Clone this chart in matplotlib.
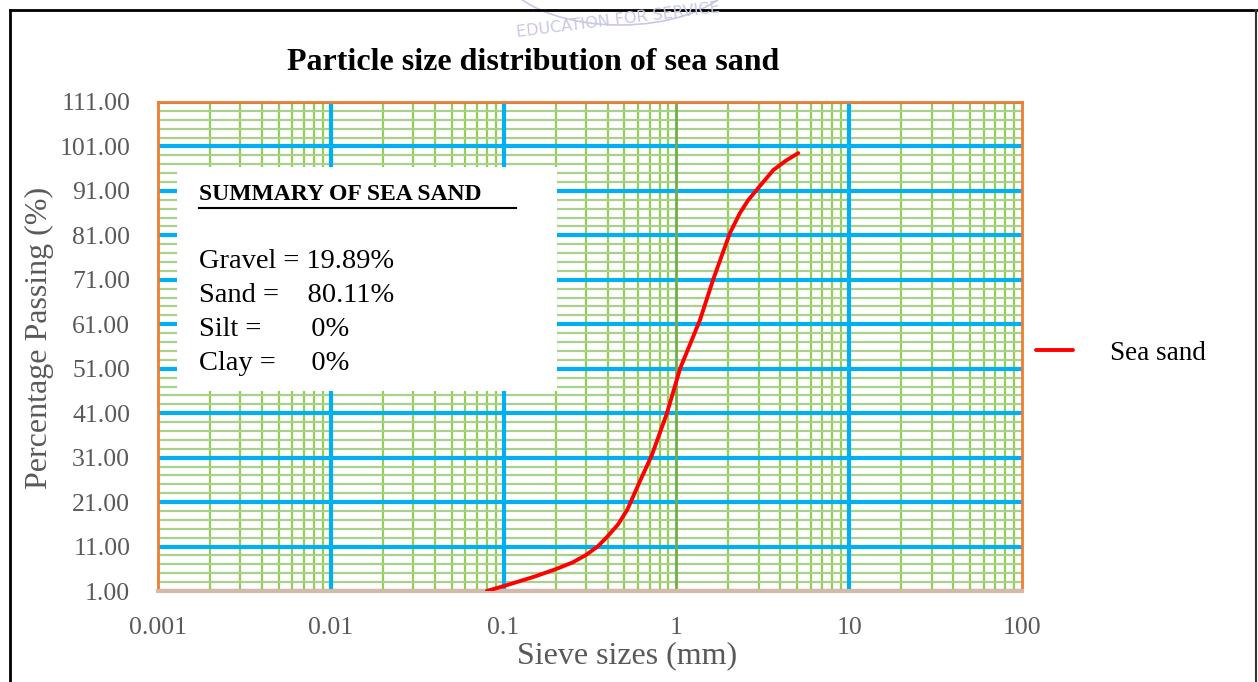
import numpy as np
import matplotlib
matplotlib.use("Agg")
import matplotlib.pyplot as plt
from matplotlib.ticker import FixedLocator, LogLocator, NullFormatter
from matplotlib.patches import Rectangle, Arc
from matplotlib.lines import Line2D

plt.rcParams['font.family'] = ['Liberation Serif', 'DejaVu Serif']

# sieve sizes (mm) and percentage passing
sieve_mm = [0.08, 0.1, 0.15, 0.2, 0.25, 0.3, 0.35, 0.4, 0.46, 0.52, 0.62, 0.72, 0.88,
            1.05, 1.37, 1.63, 2.04, 2.33, 2.6, 2.91, 3.64, 4.3, 5.07]
passing = [1.0, 2.1, 4.2, 5.9, 7.4, 9.1, 11.0, 13.3, 16.0, 19.3, 26.0, 31.5, 40.9,
           51.0, 62.0, 71.0, 81.5, 86.0, 88.9, 91.2, 95.7, 97.8, 99.5]

y_ticks = [1, 11, 21, 31, 41, 51, 61, 71, 81, 91, 101, 111]
x_ticks = [0.001, 0.01, 0.1, 1, 10, 100]
x_labels = ["0.001", "0.01", "0.1", "1", "10", "100"]

summary_title = "SUMMARY OF SEA SAND"
summary_lines = ["Gravel = 19.89%", "Sand =    80.11%", "Silt =       0%", "Clay =     0%"]

W, H = 1258, 682
fig = plt.figure(figsize=(W / 100, H / 100), dpi=100)
ax = fig.add_axes([158 / W, 1 - 591 / H, (1022 - 158) / W, (591 - 102) / H])

blue = '#00B0F0'
green = '#92D050'
grey = '#595959'

ax.set_xscale('log')
ax.set_xlim(0.001, 100)
ax.set_ylim(1, 111)

ax.xaxis.set_major_locator(FixedLocator(x_ticks))
ax.set_xticklabels(x_labels)
ax.xaxis.set_minor_locator(LogLocator(base=10, subs=np.arange(2, 10)))
ax.xaxis.set_minor_formatter(NullFormatter())
ax.yaxis.set_major_locator(FixedLocator(y_ticks))
ax.yaxis.set_minor_locator(FixedLocator(np.arange(1, 112, 2)))
ax.set_yticklabels(["%.2f" % v for v in y_ticks])

ax.tick_params(which='both', length=0, labelsize=18.5, labelcolor=grey)
ax.tick_params(axis='x', pad=19)
ax.tick_params(axis='y', pad=20)

ax.set_axisbelow(True)
ax.grid(which='minor', axis='y', color='#A9D18E', lw=1.6)
ax.grid(which='minor', axis='x', color=green, lw=1.6)
ax.grid(which='major', axis='y', color=blue, lw=3)
for xv in x_ticks[1:-1]:
    if xv == 1:
        ax.axvline(xv, color='#70AD47', lw=2, zorder=0.6)
    else:
        ax.axvline(xv, color=blue, lw=3, zorder=0.6)

for side in ['top', 'left', 'right']:
    ax.spines[side].set_color('#ED7D31')
    ax.spines[side].set_linewidth(2)
ax.spines['bottom'].set_color('#D5B9A8')
ax.spines['bottom'].set_linewidth(3)

line, = ax.plot(sieve_mm, passing, color='#FF0000', lw=2.8, zorder=3,
                solid_capstyle='round', solid_joinstyle='round', label='Sea sand')

# summary box
bx0, by0, bx1, by1 = 177, 167, 557, 391
box = Rectangle((bx0 / W, 1 - by1 / H), (bx1 - bx0) / W, (by1 - by0) / H,
                transform=fig.transFigure, facecolor='white', edgecolor='none', zorder=2)
fig.patches.append(box)
fig.text(199 / W, 1 - 194 / H, summary_title, fontsize=17, fontweight='bold',
         va='center', ha='left', zorder=4)
fig.add_artist(Line2D([199 / W, 516 / W], [1 - 208 / H, 1 - 208 / H],
                      color='black', lw=1.5, zorder=4))
for i, s in enumerate(summary_lines):
    fig.text(199 / W, 1 - (261 + 34 * i) / H, s, fontsize=20.5,
             va='center', ha='left', zorder=4)

ax.set_xlabel("Sieve sizes (mm)", fontsize=23, color=grey, va='center')
ax.xaxis.set_label_coords((627 - 158) / 864, (591 - 656) / 489)
ax.set_ylabel("Percentage Passing (%)", fontsize=23, color=grey, va='center')
ax.yaxis.set_label_coords((39 - 158) / 864, (591 - 338) / 489)

fig.text(533 / W, 1 - 63 / H, "Particle size distribution of sea sand",
         fontsize=23, fontweight='bold', ha='center', va='center')

fig.legend(handles=[line], loc='center left', bbox_to_anchor=(1036 / W, 1 - 353 / H),
           frameon=False, fontsize=19.5, handlelength=1.35, handletextpad=1.4,
           borderpad=0, borderaxespad=0)

# page frame
fig.add_artist(Line2D([10 / W, 10 / W], [0, 1 - 10 / H], color='black', lw=2))
fig.add_artist(Line2D([10 / W, 1257 / W], [1 - 10 / H, 1 - 10 / H], color='black', lw=2))
fig.add_artist(Line2D([1256 / W, 1256 / W], [0, 1 - 10 / H], color='#333333', lw=1.5))

# faint watermark
fig.patches.append(Arc((620 / W, 1 - (-35) / H), 240 / W, 120 / H, theta1=200, theta2=340,
                       transform=fig.transFigure, color='#C8C8E6', lw=1.2))
fig.text(618 / W, 1 - 20 / H, "EDUCATION FOR SERVICE", fontsize=11.5, color='#C8C8E6',
         family='DejaVu Sans', ha='center', va='center', rotation=7)

fig.savefig("out.png", dpi=100)
